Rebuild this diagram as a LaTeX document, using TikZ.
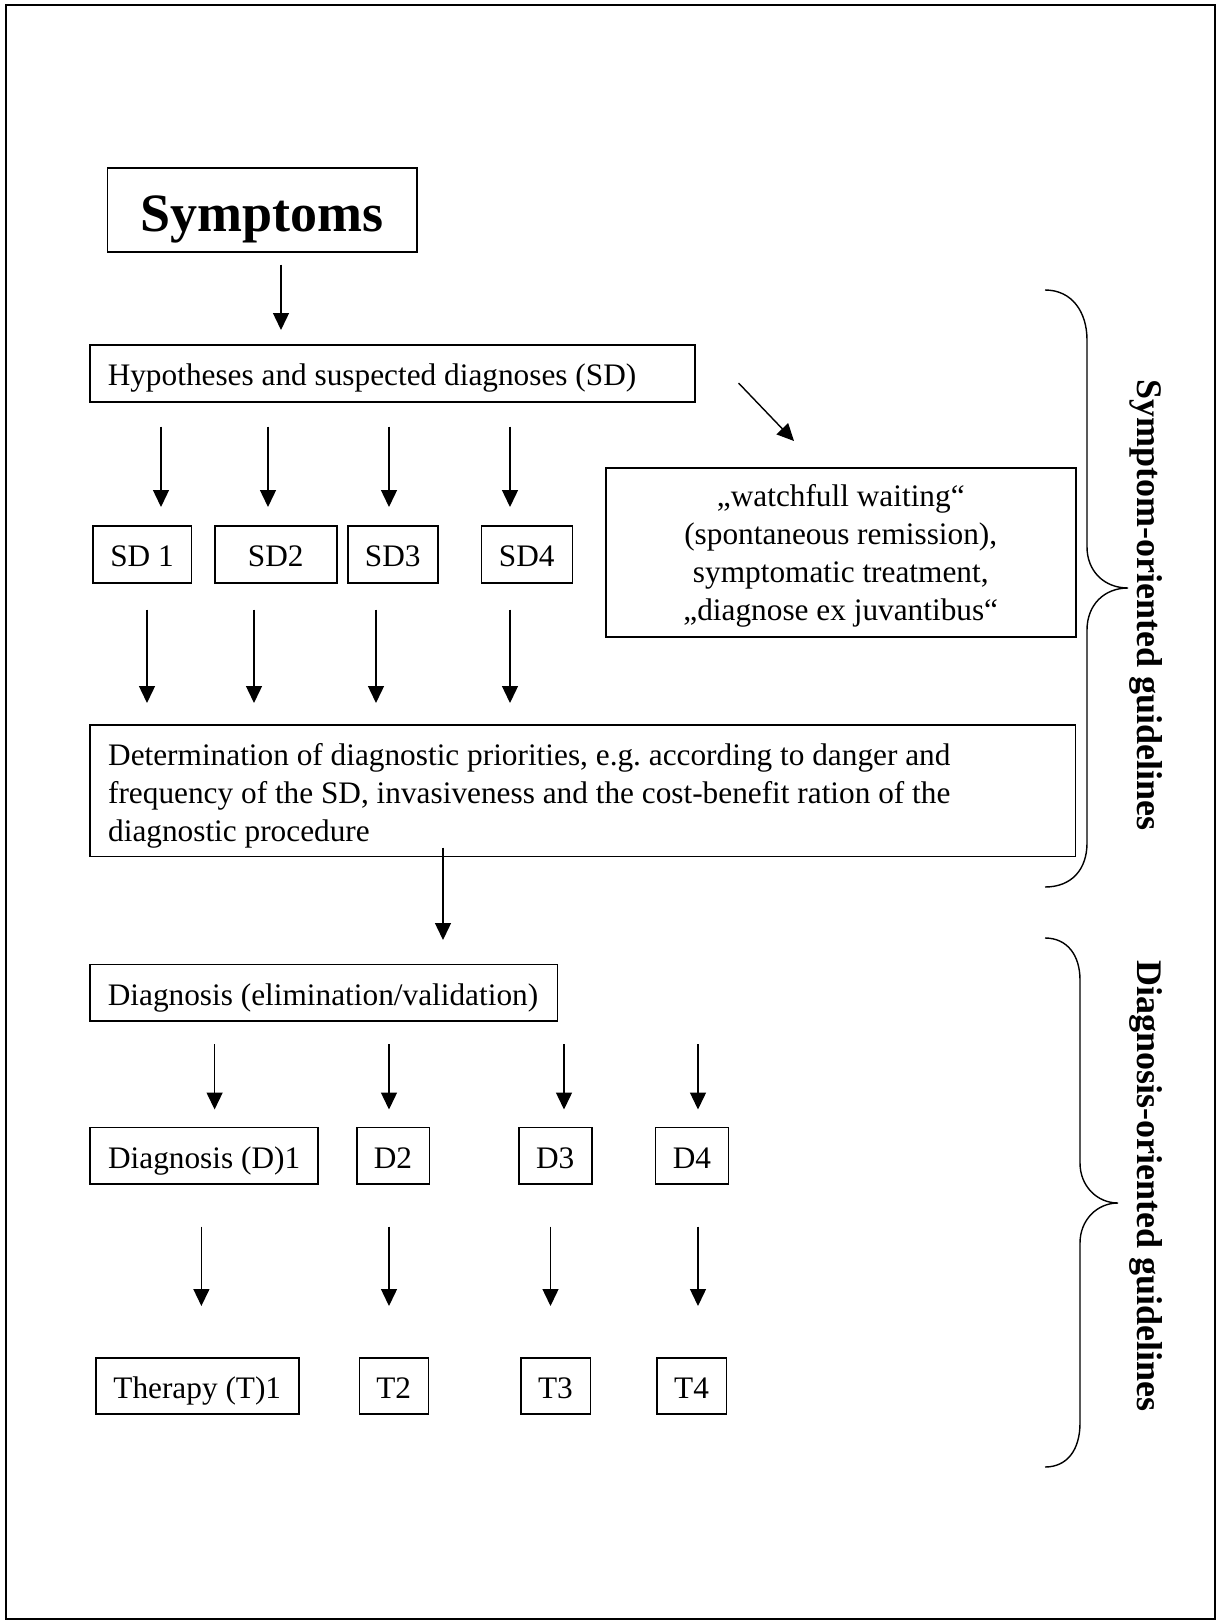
\documentclass[tikz,border=0pt]{standalone}
\usepackage{fontspec}
\setmainfont{Liberation Serif}
\usetikzlibrary{arrows.meta,calc}
\begin{document}
\frenchspacing
\begin{tikzpicture}[x=0.5pt,y=-0.5pt,
  txt/.style={font=\fontsize{15.65pt}{19pt}\selectfont,
    execute at begin node={\spaceskip=0pt\xspaceskip=0pt\relax}},
  box/.style={txt, draw, line width=0.75pt, rectangle, inner sep=0pt, anchor=north west},
  single/.style={box, text height=12.5pt, text depth=0pt, align=center},
  flow/.style={line width=0.7pt, -{Triangle[length=8.5pt,width=8pt]}},
  brace/.style={line width=0.7pt},
  side/.style={font=\bfseries\fontsize{18pt}{22pt}\selectfont, rotate=-90, anchor=base}
]
\useasboundingbox (0,0) rectangle (1219,1621);
% page frame
\draw[line width=1pt] (6,5) rectangle (1215,1619);

% top of the flow
\node[box, font=\bfseries\fontsize{27pt}{32pt}\selectfont, text height=21.6pt, text depth=0pt,
      minimum width=154.75pt, minimum height=42pt] (sym) at (106.5,167.5) {Symptoms};
\node[single, align=left, text width=284.5pt, minimum width=302.5pt, minimum height=28.5pt]
      (hyp) at (89,344) {Hypotheses and suspected diagnoses (SD)};

% suspected diagnoses
\node[single, minimum width=49.25pt, minimum height=28.5pt] (sd1) at (92,525) {SD 1};
\node[single, minimum width=61pt,    minimum height=28.5pt] (sd2) at (214,525) {SD2};
\node[single, minimum width=45pt,    minimum height=28.5pt] (sd3) at (347,525) {SD3};
\node[single, minimum width=45.5pt,  minimum height=28.5pt] (sd4) at (480.5,525) {SD4};

\node[box, align=center, minimum width=235pt, minimum height=84.5pt]
      (wait) at (605,467) {\rule{0pt}{14.8pt}„watchfull waiting“\\(spontaneous remission),\\symptomatic treatment,\\„diagnose ex juvantibus“};

\node[box, align=left, text width=474.6pt, minimum width=492.6pt, minimum height=65.85pt]
      (det) at (89.4,724) {\rule{0pt}{15.8pt}Determination of diagnostic priorities, e.g. according to danger and\\frequency of the SD, invasiveness and the cost-benefit ration of the\\diagnostic procedure};

% diagnosis part
\node[single, align=left, text width=216pt, minimum width=233.7pt, minimum height=28.25pt]
      (diag) at (89.4,963.5) {\mbox{Diagnosis (elimination/validation)}};

\node[single, minimum width=114pt,   minimum height=28.25pt] (d1) at (89.4,1126.5) {Diagnosis (D)1};
\node[single, minimum width=36.25pt, minimum height=28.25pt] (d2) at (356,1126.5) {D2};
\node[single, minimum width=36.5pt,  minimum height=28.25pt] (d3) at (518,1126.5) {D3};
\node[single, minimum width=36.5pt,  minimum height=28.25pt] (d4) at (654.7,1126.5) {D4};

\node[single, minimum width=101.5pt, minimum height=28pt] (t1) at (95,1357) {Therapy (T)1};
\node[single, minimum width=34.5pt,  minimum height=28pt] (t2) at (358.5,1357) {T2};
\node[single, minimum width=34.75pt, minimum height=28pt] (t3) at (520,1357) {T3};
\node[single, minimum width=34.75pt, minimum height=28pt] (t4) at (656,1357) {T4};

% connectors
\draw[flow, shorten <=5.75pt, shorten >=7pt] (sym.south -| 281,0) -- (hyp.north -| 281,0);

\draw[flow, shorten <=12pt, shorten >=9pt] (hyp.south -| 161,0) -- (sd1.north -| 161,0);
\draw[flow, shorten <=12pt, shorten >=9pt] (hyp.south -| 268,0) -- (sd2.north -| 268,0);
\draw[flow, shorten <=12pt, shorten >=9pt] (hyp.south -| 389,0) -- (sd3.north -| 389,0);
\draw[flow, shorten <=12pt, shorten >=9pt] (hyp.south -| 510,0) -- (sd4.north -| 510,0);

\draw[flow] ($(hyp.north east)+(43,39)$) -- ($(wait.north west)+(189,-26)$);

\draw[flow, shorten <=13pt, shorten >=10.5pt] (sd1.south -| 147,0) -- (det.north -| 147,0);
\draw[flow, shorten <=13pt, shorten >=10.5pt] (sd2.south -| 254,0) -- (det.north -| 254,0);
\draw[flow, shorten <=13pt, shorten >=10.5pt] (sd3.south -| 376,0) -- (det.north -| 376,0);
\draw[flow, shorten <=13pt, shorten >=10.5pt] (sd4.south -| 510,0) -- (det.north -| 510,0);

\draw[flow, shorten <=-4.85pt, shorten >=11.75pt] (det.south -| 443,0) -- (diag.north -| 443,0);

\draw[flow, shorten <=11.25pt, shorten >=8.5pt] (diag.south -| 214.6,0) -- (d1.north -| 214.6,0);
\draw[flow, shorten <=11.25pt, shorten >=8.5pt] (diag.south -| 389,0) -- (d2.north -| 389,0);
\draw[flow, shorten <=11.25pt, shorten >=8.5pt] (diag.south -| 564,0) -- (d3.north -| 564,0);
\draw[flow, shorten <=11.25pt, shorten >=8.5pt] (diag.south -| 698,0) -- (d4.north -| 698,0);

\draw[flow, shorten <=21pt, shorten >=25.5pt] (d1.south -| 201.4,0) -- (t1.north -| 201.4,0);
\draw[flow, shorten <=21pt, shorten >=25.5pt] (d2.south -| 389,0) -- (t2.north -| 389,0);
\draw[flow, shorten <=21pt, shorten >=25.5pt] (d3.south -| 550.5,0) -- (t3.north -| 550.5,0);
\draw[flow, shorten <=21pt, shorten >=25.5pt] (d4.south -| 698,0) -- (t4.north -| 698,0);

% side braces and their captions
\draw[brace] (1045,290) .. controls (1072,290) and (1087,312) .. (1087,340) -- (1087,547)
  .. controls (1087,571) and (1104,588) .. (1128,588)
  .. controls (1104,588) and (1087,605) .. (1087,630) -- (1087,843)
  .. controls (1087,869) and (1072,887) .. (1045,887);
\draw[brace] (1045,938) .. controls (1067,938) and (1080,955) .. (1080,980) -- (1080,1163)
  .. controls (1080,1186) and (1097,1203) .. (1118,1203)
  .. controls (1097,1203) and (1080,1220) .. (1080,1243) -- (1080,1423)
  .. controls (1080,1450) and (1067,1467) .. (1045,1467);

\node[side] (symlab) at (1137,605) {Symptom-oriented guidelines};
\node[side] (diaglab) at (1137,1186) {Diagnosis-oriented guidelines};
\end{tikzpicture}
\end{document}
